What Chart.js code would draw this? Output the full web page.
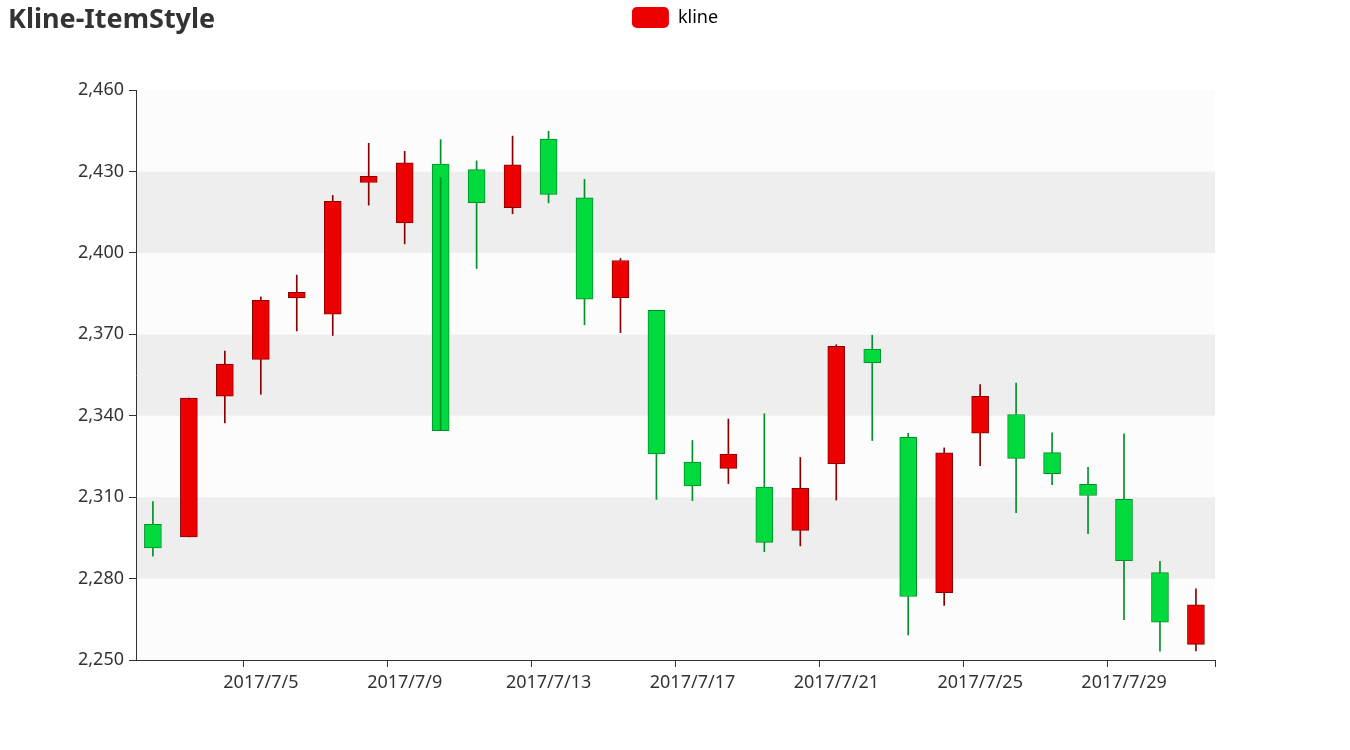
<!DOCTYPE html>
<html>
<head>
<meta charset="utf-8">
<title>Kline-ItemStyle</title>
<script src="https://cdn.jsdelivr.net/npm/chart.js@4.4.1/dist/chart.umd.min.js"></script>
<style>
  html, body { margin: 0; padding: 0; background: #fff; }
  #wrap { position: relative; width: 1350px; height: 750px; }
  #title {
    position: absolute; left: 8px; top: -1px;
    font: bold 27px "Noto Sans", sans-serif; color: #333;
  }
</style>
</head>
<body>
<div id="wrap">
  <canvas id="chartKline" width="1350" height="750"></canvas>
  <div id="title">Kline-ItemStyle</div>
</div>
<script>
// data (one entry per trading day)
const dates = [
  "2017/7/2", "2017/7/3", "2017/7/4", "2017/7/5", "2017/7/6", "2017/7/7",
  "2017/7/8", "2017/7/9", "2017/7/10", "2017/7/11", "2017/7/12", "2017/7/13",
  "2017/7/14", "2017/7/15", "2017/7/16", "2017/7/17", "2017/7/18", "2017/7/19",
  "2017/7/20", "2017/7/21", "2017/7/22", "2017/7/23", "2017/7/24", "2017/7/25",
  "2017/7/26", "2017/7/27", "2017/7/28", "2017/7/29", "2017/7/30", "2017/7/31",
];
const opens = [
  2300, 2295.35, 2347.22, 2360.75, 2383.43, 2377.41, 2425.92, 2411, 2432.68, 2430.69,
  2416.62, 2441.91, 2420.26, 2383.49, 2378.82, 2322.94, 2320.62, 2313.74, 2297.77, 2322.32,
  2364.54, 2332.08, 2274.81, 2333.61, 2340.44, 2326.42, 2314.68, 2309.16, 2282.17, 2255.77,
];
const closes = [
  2291.3, 2346.5, 2358.98, 2382.48, 2385.42, 2419.02, 2428.15, 2433.13, 2334.48, 2418.53,
  2432.4, 2421.56, 2382.91, 2397.18, 2325.95, 2314.16, 2325.82, 2293.34, 2313.22, 2365.59,
  2359.51, 2273.4, 2326.31, 2347.18, 2324.29, 2318.61, 2310.59, 2286.6, 2263.97, 2270.28,
];
const lows = [
  2288.26, 2295.35, 2337.35, 2347.89, 2371.23, 2369.57, 2417.58, 2403.3, 2427.7, 2394.22,
  2414.4, 2418.43, 2373.53, 2370.61, 2309.17, 2308.76, 2315.01, 2289.89, 2292.03, 2308.92,
  2330.86, 2259.25, 2270.1, 2321.6, 2304.27, 2314.59, 2296.58, 2264.83, 2253.25, 2253.31,
];
const highs = [
  2308.38, 2345.92, 2363.8, 2383.76, 2391.82, 2421.15, 2440.38, 2437.42, 2441.73, 2433.89,
  2443.03, 2444.8, 2427.07, 2397.94, 2378.82, 2330.88, 2338.78, 2340.71, 2324.63, 2366.16,
  2369.65, 2333.54, 2328.14, 2351.44, 2352.02, 2333.67, 2320.96, 2333.29, 2286.33, 2276.22,
];
const xTickLabels = ["2017/7/5", "2017/7/9", "2017/7/13", "2017/7/17", "2017/7/21", "2017/7/25", "2017/7/29"];
const yTicks = [2250, 2280, 2310, 2340, 2370, 2400, 2430, 2460];
const seriesName = "kline";

// styles
const upColor = "#ec0000", upBorder = "#8A0000";
const downColor = "#00da3c", downBorder = "#008F28";
const splitColors = ["#fcfcfc", "#eeeeee"];
const candleOffset = 0.47; // candle centre inside its day slot
const fontFamily = '"Noto Sans", sans-serif';
const legendGap = 52; // extra room between legend and plot

Chart.defaults.font.family = fontFamily;
Chart.defaults.color = "#333";

const isUp = (i) => closes[i] > opens[i];
const fillFor = (ctx) => (isUp(ctx.dataIndex) ? upColor : downColor);
const edgeFor = (ctx) => (isUp(ctx.dataIndex) ? upBorder : downBorder);

// candle bodies and the two wick halves, built from the arrays above
const bodyData = dates.map((d, i) => ({ x: i + candleOffset, y: [opens[i], closes[i]] }));
const upperWick = dates.map((d, i) => ({ x: i + candleOffset, y: [Math.max(opens[i], closes[i]), highs[i]] }));
const lowerWick = dates.map((d, i) => ({ x: i + candleOffset, y: [Math.min(opens[i], closes[i]), lows[i]] }));

// alternating bands between y ticks
const splitArea = {
  id: "splitArea",
  beforeDraw(chart) {
    const { ctx, chartArea, scales } = chart;
    const y = scales.y;
    ctx.save();
    for (let k = 0; k < y.ticks.length - 1; k++) {
      const bot = y.getPixelForValue(y.ticks[k].value);
      const top = y.getPixelForValue(y.ticks[k + 1].value);
      ctx.fillStyle = splitColors[k % 2];
      ctx.fillRect(chartArea.left, top, chartArea.right - chartArea.left, bot - top);
    }
    ctx.restore();
  },
};

// push the plot down below the legend
const legendSpace = {
  id: "legendSpace",
  afterInit(chart) {
    const legend = chart.legend;
    const fit = legend.fit;
    legend.fit = function () {
      fit.call(this);
      this.height += legendGap;
    };
  },
};

// tick marks sit on day boundaries, labels on the candles
const xTickValue = (label) => dates.indexOf(label);

const ctxK = document.getElementById("chartKline").getContext("2d");
const chartKline = new Chart(ctxK, {
  type: "bar",
  data: {
    datasets: [
      {
        label: "upper",
        data: upperWick,
        backgroundColor: edgeFor,
        borderWidth: 0,
        barThickness: 1,
        grouped: false,
      },
      {
        label: "lower",
        data: lowerWick,
        backgroundColor: edgeFor,
        borderWidth: 0,
        barThickness: 1,
        grouped: false,
      },
      {
        label: seriesName,
        data: bodyData,
        backgroundColor: fillFor,
        borderColor: edgeFor,
        borderWidth: 1,
        borderSkipped: false,
        barThickness: 17,
        grouped: false,
      },
    ],
  },
  options: {
    responsive: false,
    animation: false,
    layout: { padding: 0 },
    plugins: {
      legend: {
        onClick: null,
        labels: {
          boxWidth: 37,
          boxHeight: 21,
          useBorderRadius: true,
          borderRadius: 5,
          padding: 7,
          color: "#333",
          font: { size: 18, family: fontFamily },
          generateLabels: () => [
            {
              text: seriesName,
              fillStyle: upColor,
              strokeStyle: upColor,
              lineWidth: 0,
              borderRadius: 5,
              datasetIndex: 2,
            },
          ],
        },
      },
      tooltip: { enabled: false },
    },
    scales: {
      x: {
        type: "linear",
        offset: false,
        min: 0,
        max: dates.length,
        afterBuildTicks: (scale) => {
          scale.ticks = xTickLabels.map((l) => ({ value: xTickValue(l) })).concat([{ value: dates.length }]);
        },
        afterFit: (scale) => {
          scale.height = 90;
        },
        ticks: {
          autoSkip: false,
          maxRotation: 0,
          padding: 5,
          labelOffset: 17,
          color: "#333",
          font: { size: 18 },
          callback: (v) => {
            const l = dates[v];
            return xTickLabels.includes(l) ? l : "";
          },
        },
        grid: { offset: false, drawOnChartArea: false, color: "#333", tickLength: 7 },
        border: { color: "#333", width: 1 },
      },
      y: {
        min: yTicks[0],
        max: yTicks[yTicks.length - 1],
        afterBuildTicks: (scale) => {
          scale.ticks = yTicks.map((v) => ({ value: v }));
        },
        afterFit: (scale) => {
          scale.width = 136;
        },
        ticks: {
          padding: 5,
          color: "#333",
          font: { size: 18 },
          callback: (v) => v.toLocaleString("en-US"),
        },
        grid: { drawOnChartArea: false, color: "#333", tickLength: 7 },
        border: { color: "#333", width: 1 },
      },
      // empty right-hand axis: only keeps the right margin
      yRight: {
        position: "right",
        grid: { display: false },
        border: { display: false },
        ticks: { display: false },
        afterFit: (scale) => {
          scale.width = 135;
        },
      },
    },
  },
  plugins: [splitArea, legendSpace],
});
</script>
</body>
</html>
